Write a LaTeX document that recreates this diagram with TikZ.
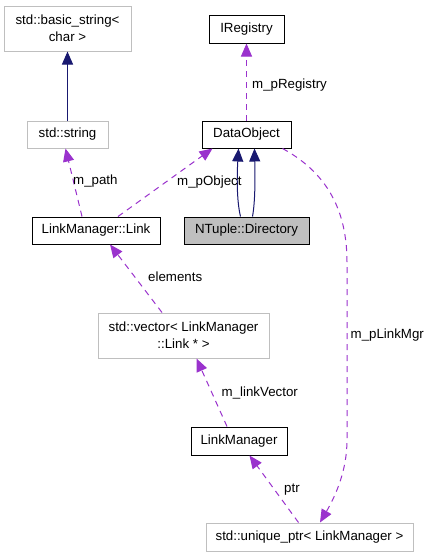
\documentclass[tikz,border=0pt]{standalone}
\usepackage{fontspec}
\setmainfont{Liberation Sans}
\usetikzlibrary{arrows.meta}
\definecolor{purp}{HTML}{9A32CD}
\definecolor{navy}{HTML}{191970}
\definecolor{gbord}{HTML}{BFBFBF}
\definecolor{gfill}{HTML}{BFBFBF}
\begin{document}
\begin{tikzpicture}[x=1pt,y=-1pt,
  txt/.style={font=\fontsize{13.3}{17}\selectfont},
  cls/.style={txt, draw=black, line width=1pt, fill=white, inner sep=0pt, align=center},
  ext/.style={cls, draw=gbord},
  cur/.style={cls, fill=gfill},
  lbl/.style={txt, inner sep=0pt, anchor=west},
  inh/.style={draw=navy, line width=1pt, -{Triangle[length=13pt,width=11pt]}, color=navy},
  use/.style={draw=purp, line width=1pt, dash pattern=on 6pt off 5pt, -{Triangle[length=13pt,width=11pt]}, color=purp},
]
\useasboundingbox (0,0) rectangle (428,557);
\fill[white] (0,0) rectangle (428,557);

\node[ext, minimum width=127pt, minimum height=45pt] (bstr) at (67.5,28.5) {std::basic\_string<\\char >};
\node[ext, minimum width=81pt, minimum height=27pt] (str) at (67.5,134.5) {std::string};
\node[cls, minimum width=75pt, minimum height=28pt] (ireg) at (246.5,29) {IRegistry};
\node[cls, minimum width=89pt, minimum height=27pt] (dobj) at (246.5,134.5) {DataObject};
\node[cur, minimum width=125pt, minimum height=27pt] (dir) at (246.5,230.5) {NTuple::Directory};
\node[cls, minimum width=128pt, minimum height=27pt] (link) at (96,230.5) {LinkManager::Link};
\node[ext, minimum width=171pt, minimum height=45pt] (vec) at (183.5,335.5) {std::vector< LinkManager\\::Link * >};
\node[cls, minimum width=96pt, minimum height=28pt] (lmgr) at (239,441) {LinkManager};
\node[ext, minimum width=207pt, minimum height=28pt] (uptr) at (309.5,537) {std::unique\_ptr< LinkManager >};

% inheritance
\draw[inh] (str.north) -- (bstr.south);
\draw[inh] ([xshift=-6pt]dir.north) .. controls (236.5,200) and (237,175) .. ([xshift=-8pt]dobj.south);
\draw[inh] ([xshift=6pt]dir.north) .. controls (255.5,200) and (255,175) .. ([xshift=8pt]dobj.south);

% usage
\draw[use] (dobj.north) -- (ireg.south);
\node[lbl] (l1) at (252,85) {m\_pRegistry};

\draw[use] ([xshift=-14pt]link.north) -- ([xshift=-2pt]str.south);
\node[lbl] (l2) at (73,181.5) {m\_path};

\draw[use] ([xshift=22pt]link.north) -- ([xshift=-34pt]dobj.south);
\node[lbl] (l3) at (177,182) {m\_pObject};

\draw[use] ([xshift=-21.5pt]vec.north) -- ([xshift=14pt]link.south);
\node[lbl] (l4) at (148,277) {elements};

\draw[use] ([xshift=-12pt]lmgr.north) -- ([xshift=13pt]vec.south);
\node[lbl] (l5) at (221.5,392.5) {m\_linkVector};

\draw[use] ([xshift=-11pt]uptr.north) -- ([xshift=10.5pt]lmgr.south);
\node[lbl] (l6) at (284,489.5) {ptr};

\draw[use] ([xshift=-9pt]dobj.south east) .. controls (318,168) and (347,200) .. (347,262)
  -- (347,440) .. controls (347,470) and (336,495) .. ([xshift=10.5pt]uptr.north);
\node[lbl] (l7) at (350.5,335) {m\_pLinkMgr};
\end{tikzpicture}
\end{document}
